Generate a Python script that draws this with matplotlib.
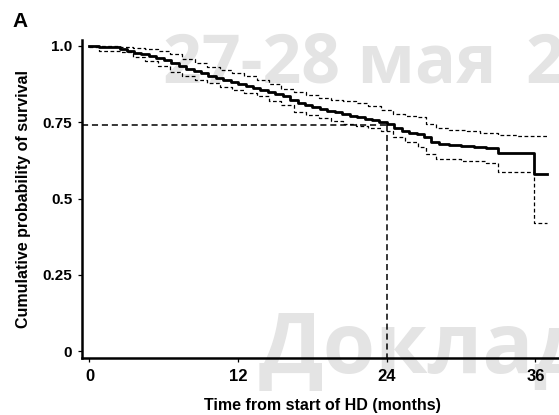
import matplotlib
matplotlib.use("Agg")
import matplotlib.pyplot as plt

# Kaplan-Meier estimate (months, survival)
km_time = [0, 0.8, 1.6, 2.5, 3.0, 3.6, 4.2, 4.8, 5.4, 6.0, 6.6, 7.2, 7.8, 8.4,
           9.0, 9.6, 10.2, 10.8, 11.4, 12.0, 12.6, 13.2, 13.8, 14.4, 15.0,
           15.6, 16.2, 16.8, 17.4, 18.0, 18.6, 19.2, 19.8, 20.4, 21.0, 21.6,
           22.2, 22.8, 23.4, 24.0, 24.6, 25.2, 25.8, 26.4, 27.0, 27.6, 28.2,
           29.0, 30.0, 31.0, 32.0, 33.0, 35.9, 36.9]
km_surv = [1.0, 0.998, 0.996, 0.99, 0.985, 0.978, 0.972, 0.966, 0.96, 0.953,
           0.945, 0.935, 0.926, 0.918, 0.91, 0.902, 0.896, 0.888, 0.882,
           0.876, 0.87, 0.862, 0.855, 0.848, 0.842, 0.835, 0.822, 0.812,
           0.806, 0.8, 0.793, 0.787, 0.782, 0.777, 0.772, 0.768, 0.762,
           0.757, 0.752, 0.745, 0.73, 0.722, 0.716, 0.71, 0.7, 0.686, 0.68,
           0.675, 0.672, 0.668, 0.665, 0.65, 0.579, 0.579]

# 95% confidence band
upper_time = [0, 2.5, 3.5, 4.5, 5.5, 6.5, 7.5, 8.5, 9.5, 10.5, 11.5, 12.5,
              13.5, 14.5, 15.5, 16.5, 17.5, 18.5, 19.5, 20.5, 21.5, 22.5,
              23.5, 24.5, 25.5, 26.5, 27.2, 28.0, 29.0, 30.5, 31.5, 33.0,
              34.5, 37.0]
upper_surv = [1.0, 0.998, 0.994, 0.99, 0.982, 0.972, 0.958, 0.945, 0.932,
              0.922, 0.912, 0.9, 0.888, 0.875, 0.86, 0.848, 0.838, 0.828,
              0.822, 0.818, 0.812, 0.804, 0.79, 0.778, 0.772, 0.766, 0.745,
              0.732, 0.725, 0.72, 0.716, 0.708, 0.705, 0.705]

lower_time = [0, 0.8, 2.5, 3.5, 4.5, 5.5, 6.5, 7.5, 8.5, 9.5, 10.5, 11.5,
              12.5, 13.5, 14.5, 15.5, 16.5, 17.5, 18.5, 19.5, 20.5, 21.5,
              22.5, 23.5, 24.5, 25.5, 26.5, 27.2, 28.0, 30.0, 32.0, 33.0,
              35.9, 36.9]
lower_surv = [0.995, 0.985, 0.98, 0.965, 0.95, 0.935, 0.915, 0.903, 0.89,
              0.878, 0.866, 0.856, 0.846, 0.835, 0.82, 0.805, 0.785, 0.775,
              0.765, 0.755, 0.745, 0.738, 0.73, 0.72, 0.7, 0.685, 0.668,
              0.645, 0.628, 0.623, 0.618, 0.586, 0.42, 0.42]

median_time = 24
median_surv = 0.74

x_ticks = [0, 12, 24, 36]
y_ticks = [0, 0.25, 0.5, 0.75, 1.0]
y_ticklabels = ["0", "0.25", "0.5", "0.75", "1.0"]

plt.rcParams["font.family"] = ["Liberation Sans", "DejaVu Sans"]
plt.rcParams["font.weight"] = "bold"

fig = plt.figure(figsize=(5.59, 4.15), dpi=100)

# background watermark (sits behind the axes)
wm_color = "#e4e4e4"
wm_kw = dict(color=wm_color, family="Open Sans", fontweight="bold", zorder=-1)
fig.text(0.292, 0.802, "27-28 мая", fontsize=49, **wm_kw)
fig.text(0.939, 0.802, "20", fontsize=49, **wm_kw)
fig.text(0.462, 0.101, "Доклад", fontsize=61, **wm_kw)

ax = fig.add_axes([0.1467, 0.137, 0.86, 0.767])
ax.patch.set_alpha(0)

ax.step(km_time, km_surv, where="post", color="black", lw=2.0, zorder=3)
ax.step(upper_time, upper_surv, where="post", color="black", lw=0.9,
        linestyle=(0, (3, 2)), zorder=2)
ax.step(lower_time, lower_surv, where="post", color="black", lw=0.9,
        linestyle=(0, (3, 2)), zorder=2)

# median survival guide lines
ax.plot([-0.6, median_time], [median_surv, median_surv], color="black",
        lw=1.1, linestyle=(0, (4, 2.5)), zorder=2)
ax.plot([median_time, median_time], [median_surv, -0.023], color="black",
        lw=1.1, linestyle=(0, (4, 2.5)), zorder=2)

ax.set_xlim(-0.6, 38.2)
ax.set_ylim(-0.023, 1.02)
ax.set_xticks(x_ticks)
ax.set_yticks(y_ticks)
ax.set_yticklabels(y_ticklabels)

for side in ("top", "right"):
    ax.spines[side].set_visible(False)
for side in ("left", "bottom"):
    ax.spines[side].set_linewidth(1.8)
ax.tick_params(direction="out", length=3, width=0.9)
ax.tick_params(axis="x", labelsize=12, pad=5)
ax.tick_params(axis="y", labelsize=11, pad=4)

ax.set_xlabel("Time from start of HD (months)", fontsize=11.5,
              fontweight="bold", labelpad=10)
ax.set_ylabel("Cumulative probability of survival", fontsize=11.5,
              fontweight="bold", labelpad=8)

fig.text(0.022, 0.935, "A", fontsize=15, fontweight="bold")

fig.savefig("out.png", dpi=100)
